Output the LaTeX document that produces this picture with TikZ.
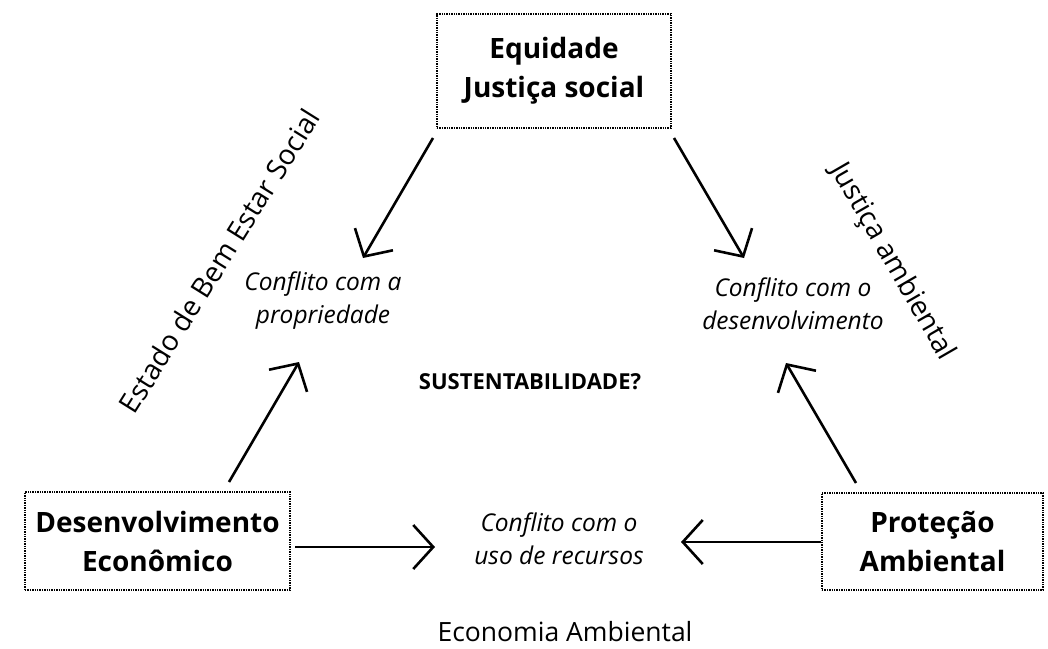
\documentclass[tikz,border=0pt]{standalone}
\usepackage{fontspec}
\setmainfont{Open Sans}
\usetikzlibrary{arrows.meta}
\begin{document}
\begin{tikzpicture}[x=1pt,y=-1pt,
  box/.style={draw, densely dotted, line width=1.4pt, align=center, font=\fontsize{28}{39}\selectfont\bfseries, inner sep=0pt},
  conf/.style={align=center, font=\fontsize{24.5}{33}\selectfont\itshape},
  lab/.style={font=\fontsize{28}{30}\selectfont},
  arr/.style={line width=2.6pt, -{Straight Barb[length=20pt,width=44pt,line width=2.6pt]}}]
\useasboundingbox (0,0) rectangle (1048,648);
\node[box, minimum width=234pt, minimum height=114pt] (eq) at (554,71) {Equidade\\Justiça social};
\node[box, minimum width=265pt, minimum height=98pt] (de) at (157.5,541) {Desenvolvimento\\Econômico};
\node[box, minimum width=221pt, minimum height=97pt] (pa) at (932.5,541.5) {Proteção\\Ambiental};
\node[conf] (cp) at (323,301) {Conflito com a\\propriedade};
\node[conf] (cd) at (793,304) {Conflito com o\\desenvolvimento};
\node[conf] (cr) at (559,539) {Conflito com o\\uso de recursos};
\node[font=\fontsize{22}{24}\selectfont\bfseries] (su) at (530,382) {SUSTENTABILIDADE?};
\node[lab, rotate=58] (eb) at (219,261) {Estado de Bem Estar Social};
\node[lab, rotate=-60] (ja) at (892,262) {Justiça ambiental};
\node[lab, font=\fontsize{26.5}{30}\selectfont] (ea) at (565,632) {Economia Ambiental};
\coordinate (a1s) at (433,138); \coordinate (a1e) at (363,258);
\coordinate (a2s) at (674,138); \coordinate (a2e) at (744,258);
\coordinate (a3s) at (229,482); \coordinate (a3e) at (299,362);
\coordinate (a4s) at (856,483); \coordinate (a4e) at (786,363);
\coordinate (a5s) at (295,547); \coordinate (a5e) at (435,547);
\coordinate (a6s) at (821,542); \coordinate (a6e) at (681,542);
\draw[arr] (a1s) -- (a1e);
\draw[arr] (a2s) -- (a2e);
\draw[arr] (a3s) -- (a3e);
\draw[arr] (a4s) -- (a4e);
\draw[arr] (a5s) -- (a5e);
\draw[arr] (a6s) -- (a6e);
\end{tikzpicture}
\end{document}
